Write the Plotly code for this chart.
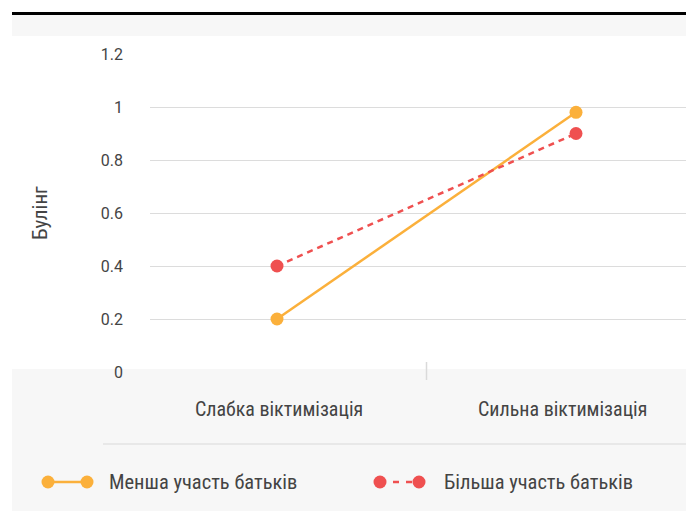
import plotly.graph_objects as go

categories = ["Слабка віктимізація", "Сильна віктимізація"]
series_names = ["Менша участь батьків", "Більша участь батьків"]
less_involvement = [0.2, 0.98]
more_involvement = [0.4, 0.9]
y_ticks = [0, 0.2, 0.4, 0.6, 0.8, 1, 1.2]
y_tick_labels = ["0", "0.2", "0.4", "0.6", "0.8", "1", "1.2"]
y_title = "Булінг"

ORANGE = "#FBB03B"
RED = "#EF5050"
GRAY_BG = "#F7F7F7"
TEXT = "#444444"
FONT = "Roboto"
NARROW = "Liberation Sans Narrow, Roboto Condensed, Roboto"

OFF = 8  # page body margin
W, H = 694, 511
L, R, T, B = 150 - OFF, 0, 54 - OFF, H - (372 - OFF)
PW, PH = W - L - R, H - T - B

def px(x):
    return (x - OFF - L) / PW

def py(y):
    return (H - B - (y - OFF)) / PH

# category 0 at screen x=277, category 1 at 576
unit = 576 - 277
x0 = -(277 - 150) / unit
x1 = x0 + PW / unit

fig = go.Figure()
fig.add_trace(go.Scatter(
    x=[0, 1], y=less_involvement, name=series_names[0], mode="lines+markers",
    line=dict(color=ORANGE, width=2.5), marker=dict(color=ORANGE, size=13),
    showlegend=False, hoverinfo="skip"))
fig.add_trace(go.Scatter(
    x=[0, 1], y=more_involvement, name=series_names[1], mode="lines+markers",
    line=dict(color=RED, width=2.5, dash="6px,5px"), marker=dict(color=RED, size=13),
    showlegend=False, hoverinfo="skip"))

shapes = [
    dict(type="rect", xref="paper", yref="paper", x0=px(12), x1=px(710), y0=py(15), y1=py(12),
         fillcolor="black", line=dict(width=0), layer="below"),
    dict(type="rect", xref="paper", yref="paper", x0=px(12), x1=px(710), y0=py(36), y1=py(15),
         fillcolor=GRAY_BG, line=dict(width=0), layer="below"),
    dict(type="rect", xref="paper", yref="paper", x0=px(12), x1=px(710), y0=py(520), y1=py(369),
         fillcolor=GRAY_BG, line=dict(width=0), layer="below"),
    dict(type="line", xref="paper", yref="paper", x0=px(103), x1=px(710), y0=py(444), y1=py(444),
         line=dict(color="#DADADA", width=1.2)),
    dict(type="line", xref="x", yref="paper", x0=0.5, x1=0.5, y0=py(380), y1=py(362),
         line=dict(color="#DADADA", width=1.5)),
]

legend_y = 482
def legend_symbol(a, b, color, dash):
    out = [dict(type="line", xref="paper", yref="paper", x0=px(a), x1=px(b),
                y0=py(legend_y), y1=py(legend_y), line=dict(color=color, width=2.5, dash=dash))]
    for cx in (a, b):
        out.append(dict(type="circle", xref="paper", yref="paper", xsizemode="pixel", ysizemode="pixel",
                        xanchor=px(cx), yanchor=py(legend_y), x0=-6.5, x1=6.5, y0=-6.5, y1=6.5,
                        fillcolor=color, line=dict(width=0)))
    return out

shapes += legend_symbol(48, 87, ORANGE, "solid")
shapes += legend_symbol(380, 419, RED, "6px,7px")

annotations = [
    dict(text=categories[0], xref="x", yref="paper", x=0, xshift=2, y=py(409),
         xanchor="center", yanchor="middle", showarrow=False,
         font=dict(family=NARROW, size=20, color=TEXT)),
    dict(text=categories[1], xref="x", yref="paper", x=1, xshift=-14, y=py(409),
         xanchor="center", yanchor="middle", showarrow=False,
         font=dict(family=NARROW, size=20, color=TEXT)),
    dict(text=y_title, xref="paper", yref="paper", x=px(40), y=py(213), textangle=-90,
         xanchor="center", yanchor="middle", showarrow=False,
         font=dict(family=NARROW, size=21, color=TEXT)),
    dict(text=series_names[0], xref="paper", yref="paper", x=px(107), y=py(legend_y),
         xanchor="left", yanchor="middle", showarrow=False,
         font=dict(family=NARROW, size=20.5, color=TEXT)),
    dict(text=series_names[1], xref="paper", yref="paper", x=px(442), y=py(legend_y),
         xanchor="left", yanchor="middle", showarrow=False,
         font=dict(family=NARROW, size=20.5, color=TEXT)),
]

fig.update_layout(
    width=W, height=H,
    margin=dict(l=L, r=R, t=T, b=B, pad=0),
    paper_bgcolor="white", plot_bgcolor="rgba(0,0,0,0)",
    font=dict(family=FONT, color=TEXT),
    shapes=shapes, annotations=annotations,
    showlegend=False,
    xaxis=dict(range=[x0, x1], showgrid=False, zeroline=False, showticklabels=False,
               showline=False, fixedrange=True),
    yaxis=dict(range=[0, 1.2], tickvals=y_ticks, ticktext=y_tick_labels,
               showgrid=True, gridcolor="#DCDCDC", gridwidth=1, zeroline=False,
               showline=False, ticks="", ticklabelstandoff=26,
               tickfont=dict(family=FONT, size=16, color="#444444"), fixedrange=True),
)

fig.write_html("out.html", config={"displayModeBar": False})
